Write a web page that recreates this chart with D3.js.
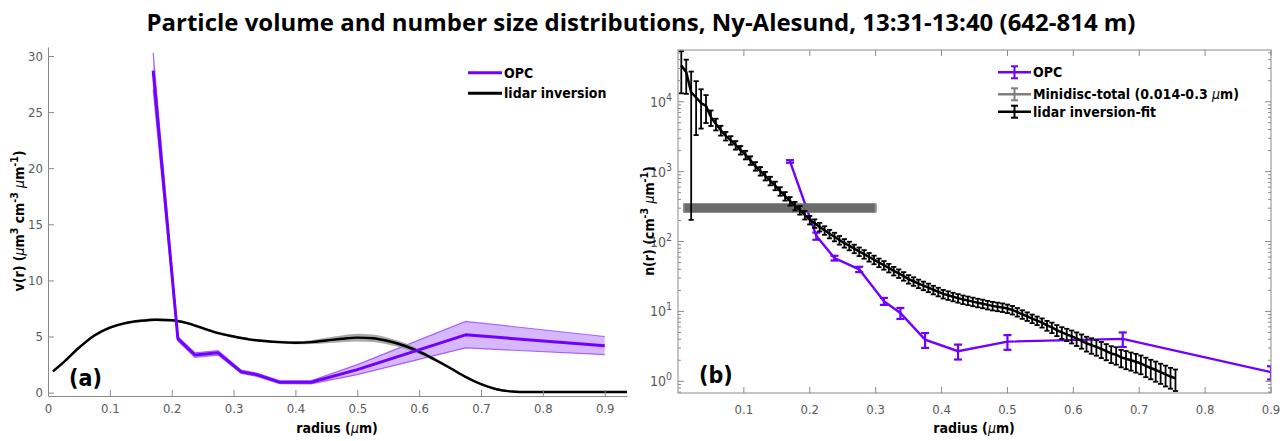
<!DOCTYPE html>
<html>
<head>
<meta charset="utf-8">
<script src="https://cdn.jsdelivr.net/npm/d3@7"></script>
<style>
  body { margin: 0; background: #fff; }
  svg { display: block; }
</style>
</head>
<body>
<div id="chart"></div>
<script>
// ---- panel (a): volume size distribution v(r) ----
const opcR   = [0.17, 0.21, 0.2375, 0.275, 0.3125, 0.3375, 0.375, 0.425, 0.5, 0.675, 0.9];
const opcV   = [28.7, 4.8, 3.35, 3.55, 1.85, 1.6, 0.92, 0.92, 2.05, 5.15, 4.18];
const opcVLo = [27.0, 4.6, 3.15, 3.35, 1.7, 1.45, 0.8, 0.78, 1.6, 3.98, 3.38];
const opcVHi = [30.3, 5.0, 3.55, 3.75, 2.0, 1.75, 1.05, 1.06, 2.5, 6.35, 5.0];

const lidarVR = [0.008, 0.025, 0.05, 0.075, 0.1, 0.125, 0.15, 0.175, 0.2, 0.225, 0.25, 0.275,
                 0.3, 0.325, 0.35, 0.375, 0.4, 0.425, 0.45, 0.475, 0.5, 0.525, 0.55, 0.575,
                 0.6, 0.625, 0.65, 0.675, 0.7, 0.725, 0.75, 0.775, 0.8, 0.85, 0.9, 0.936];
const lidarV   = [1.9, 2.7, 4.0, 5.1, 5.8, 6.2, 6.4, 6.5, 6.45, 6.2, 5.75, 5.3,
                  5.0, 4.75, 4.6, 4.5, 4.45, 4.5, 4.65, 4.8, 4.9, 4.85, 4.6, 4.2,
                  3.65, 2.95, 2.2, 1.4, 0.75, 0.3, 0.1, 0.05, 0.05, 0.05, 0.05, 0.05];
const lidarVErr = [0.12, 0.12, 0.12, 0.12, 0.12, 0.12, 0.12, 0.12, 0.12, 0.12, 0.12, 0.12,
                   0.12, 0.12, 0.12, 0.12, 0.14, 0.17, 0.24, 0.3, 0.34, 0.34, 0.3, 0.27,
                   0.22, 0.16, 0.12, 0.1, 0.08, 0.08, 0.08, 0.08, 0.08, 0.08, 0.08, 0.08];

const xTicksA = [0, 0.1, 0.2, 0.3, 0.4, 0.5, 0.6, 0.7, 0.8, 0.9];
const yTicksA = [0, 5, 10, 15, 20, 25, 30];

// ---- panel (b): number size distribution n(r) ----
const opcN    = [1400, 120, 58, 40, 14, 9.5, 3.95, 2.7, 3.7, 4.05, 1.35];
const opcNErr = [60, 14, 4.5, 3.5, 1.6, 1.7, 0.95, 0.65, 0.88, 0.95, 0.29];

const minidiscRange = [0.009, 0.3];
const minidiscN = 305;
const minidiscErr = 47;

const fitR = d3.range(101).map(i => 0.005 + i * 0.0075);
const fitN = [33000, 26500, 13600, 11500, 9600, 8700, 6000, 4800, 3900, 3240,
              2820, 2400, 2040, 1740, 1450, 1200, 1020, 870, 740, 630,
              525, 447, 380, 324, 282, 240, 204, 182, 162, 145,
              129, 117, 105, 95, 87, 79, 72, 66, 60, 55,
              50, 46, 42, 38, 35, 32, 29, 27, 25, 23.4,
              21.9, 20.4, 19.1, 17.8, 17.0, 16.2, 15.5, 14.8, 14.3, 13.8,
              13.3, 12.9, 12.4, 12.0, 11.7, 11.4, 11.0, 10.5, 9.8, 9.1,
              8.5, 7.9, 7.4, 6.9, 6.3, 5.9, 5.4, 5.0, 4.7, 4.4,
              4.1, 3.8, 3.5, 3.3, 3.1, 2.9, 2.7, 2.5, 2.4, 2.2,
              2.1, 2.0, 1.9, 1.8, 1.66, 1.55, 1.45, 1.35, 1.26, 1.17,
              1.10];
const fitRelErr = [0.6, 0.51, 0.985, 0.71, 0.57, 0.43, 0.25, 0.19, 0.16, 0.14,
                   0.14, 0.14, 0.14, 0.14, 0.14, 0.14, 0.14, 0.14, 0.14, 0.14,
                   0.14, 0.14, 0.14, 0.14, 0.14, 0.14, 0.14, 0.14, 0.14, 0.14,
                   0.14, 0.14, 0.14, 0.14, 0.14, 0.14, 0.14, 0.14, 0.14, 0.14,
                   0.14, 0.14, 0.14, 0.14, 0.14, 0.14, 0.14, 0.14, 0.14, 0.14,
                   0.14, 0.14, 0.14, 0.14, 0.14, 0.14, 0.14, 0.14, 0.14, 0.14,
                   0.14, 0.14, 0.14, 0.14, 0.14, 0.14, 0.14, 0.14, 0.14, 0.14,
                   0.14, 0.14, 0.14, 0.15, 0.16, 0.17, 0.18, 0.19, 0.2, 0.21,
                   0.22, 0.23, 0.24, 0.25, 0.25, 0.26, 0.26, 0.27, 0.28, 0.28,
                   0.29, 0.29, 0.3, 0.3, 0.31, 0.31, 0.32, 0.32, 0.33, 0.33,
                   0.34];

const xTicksB = [0.1, 0.2, 0.3, 0.4, 0.5, 0.6, 0.7, 0.8, 0.9];
const yDecadesB = [0, 1, 2, 3, 4];

const title = "Particle volume and number size distributions,  Ny-Alesund, 13:31-13:40 (642-814 m)";

const PURPLE = "#7000ff";
const AXIS = "#8a8a8a";
const TICKTXT = "#5a5a5a";
const FONT = "'DejaVu Sans Condensed', 'DejaVu Sans', sans-serif";

const W = 1284, H = 441;
const svg = d3.select("#chart").append("svg")
  .attr("width", W).attr("height", H)
  .style("font-family", FONT);

// text with superscripts and italic mu
function rich(sel, parts) {
  let shift = 0;
  for (const [t, kind] of parts) {
    const ts = sel.append("tspan").text(t);
    const target = kind === "sup" ? -6 : 0;
    if (target !== shift) { ts.attr("dy", target - shift); shift = target; }
    if (kind === "sup") ts.attr("font-size", "0.75em");
    if (kind === "mu") ts.attr("font-style", "italic").attr("font-weight", "normal");
  }
  return sel;
}

// title, fitted to the reference width
const t = svg.append("text")
  .attr("x", 641).attr("y", 31)
  .attr("text-anchor", "middle")
  .style("font-family", "'Liberation Sans Narrow', 'Open Sans', sans-serif")
  .attr("font-weight", "bold").attr("font-size", 26).attr("fill", "#000")
  .text(title);
const tw = t.node().getComputedTextLength();
t.attr("font-size", 26 * 989 / tw);

// ================= panel (a) =================
{
  const x = d3.scaleLinear().domain([0, 0.936]).range([48, 627]);
  const y = d3.scaleLinear().domain([-0.3, 30.8]).range([396, 47]);
  const g = svg.append("g");

  // OPC shaded band
  const band = opcR.map((r, i) => ({r, lo: opcVLo[i], hi: opcVHi[i]}));
  g.append("path").datum(band)
    .attr("d", d3.area().x(d => x(d.r)).y0(d => y(d.lo)).y1(d => y(d.hi)))
    .attr("fill", PURPLE).attr("fill-opacity", 0.28);
  for (const key of ["lo", "hi"]) {
    g.append("path").datum(band)
      .attr("d", d3.line().x(d => x(d.r)).y(d => y(d[key])))
      .attr("fill", "none").attr("stroke", PURPLE).attr("stroke-opacity", 0.55).attr("stroke-width", 1.2);
  }

  // lidar inversion with grey band
  const lid = lidarVR.map((r, i) => ({r, v: lidarV[i], e: lidarVErr[i]}));
  g.append("path").datum(lid)
    .attr("d", d3.area().curve(d3.curveMonotoneX).x(d => x(d.r)).y0(d => y(d.v - d.e)).y1(d => y(d.v + d.e)))
    .attr("fill", "#8c8c8c").attr("fill-opacity", 0.75);
  g.append("path").datum(lid)
    .attr("d", d3.line().curve(d3.curveMonotoneX).x(d => x(d.r)).y(d => y(d.v)))
    .attr("fill", "none").attr("stroke", "#000").attr("stroke-width", 2.4);

  // OPC centre line
  g.append("path").datum(opcR.map((r, i) => ({r, v: opcV[i]})))
    .attr("d", d3.line().x(d => x(d.r)).y(d => y(d.v)))
    .attr("fill", "none").attr("stroke", PURPLE).attr("stroke-width", 3)
    .attr("stroke-linejoin", "round");

  // axes (Matlab style: ticks inward)
  const ax = g.append("g").attr("transform", "translate(0,396)")
    .call(d3.axisBottom(x).tickValues(xTicksA).tickSize(-6).tickSizeOuter(0).tickPadding(8)
      .tickFormat(d => d === 0 ? "0" : d3.format(".1f")(d)));
  const ay = g.append("g").attr("transform", "translate(48,0)")
    .call(d3.axisLeft(y).tickValues(yTicksA).tickSize(-6).tickSizeOuter(0).tickPadding(5));
  for (const a of [ax, ay]) {
    a.select(".domain").attr("stroke", AXIS);
    a.selectAll(".tick line").attr("stroke", AXIS);
    a.selectAll(".tick text").attr("fill", TICKTXT).attr("font-size", 13).style("font-family", FONT);
  }

  svg.append("text").attr("x", 337).attr("y", 433).attr("text-anchor", "middle")
    .attr("font-size", 14).attr("font-weight", "bold")
    .call(rich, [["radius (", ""], ["\u03bc", "mu"], ["m)", ""]]);
  svg.append("text").attr("transform", "translate(24,221) rotate(-90)").attr("text-anchor", "middle")
    .attr("font-size", 14).attr("font-weight", "bold")
    .call(rich, [["v(r) (", ""], ["\u03bc", "mu"], ["m", ""], ["3", "sup"], [" cm", ""], ["-3", "sup"],
                 ["  ", ""], ["\u03bc", "mu"], ["m", ""], ["-1", "sup"], [")", ""]]);

  svg.append("text").attr("x", 69).attr("y", 386)
    .attr("font-size", 23).attr("font-weight", "bold").text("(a)");

  // legend
  const leg = [["OPC", PURPLE, 72.7], ["lidar inversion", "#000", 93.3]];
  for (const [name, col, ly] of leg) {
    svg.append("line").attr("x1", 468).attr("x2", 502).attr("y1", ly).attr("y2", ly)
      .attr("stroke", col).attr("stroke-width", 3);
    svg.append("text").attr("x", 504).attr("y", ly + 5)
      .attr("font-size", 14).attr("font-weight", "bold").text(name);
  }
}

// ================= panel (b) =================
{
  const x = d3.scaleLinear().domain([0, 0.9]).range([678, 1271]);
  const y = d3.scaleLog().domain([0.68, 55000]).range([393, 50]);
  const g = svg.append("g");

  svg.append("clipPath").attr("id", "clipB").append("rect")
    .attr("x", 678).attr("y", 50).attr("width", 593).attr("height", 343);
  const plot = g.append("g").attr("clip-path", "url(#clipB)");

  function errorBars(sel, rs, ns, es, col, cap, sw) {
    rs.forEach((r, i) => {
      const cx = x(r);
      const hi = y(ns[i] + es[i]);
      const lo = y(Math.max(ns[i] - es[i], 0.5));
      sel.append("line").attr("x1", cx).attr("x2", cx).attr("y1", hi).attr("y2", lo)
        .attr("stroke", col).attr("stroke-width", sw);
      for (const yy of [hi, lo]) {
        sel.append("line").attr("x1", cx - cap).attr("x2", cx + cap).attr("y1", yy).attr("y2", yy)
          .attr("stroke", col).attr("stroke-width", sw);
      }
    });
  }

  // OPC
  plot.append("path").datum(opcR.map((r, i) => ({r, n: opcN[i]})))
    .attr("d", d3.line().x(d => x(d.r)).y(d => y(d.n)))
    .attr("fill", "none").attr("stroke", PURPLE).attr("stroke-width", 2.4);
  errorBars(plot.append("g"), opcR, opcN, opcNErr, PURPLE, 4, 2.2);

  // Minidisc total, constant over its size range
  plot.append("path").datum(minidiscRange)
    .attr("d", d3.area().x(d => x(d)).y0(y(minidiscN - minidiscErr)).y1(y(minidiscN + minidiscErr)))
    .attr("fill", "#6b6b6b");
  for (const r of minidiscRange) {
    plot.append("line").attr("x1", x(r)).attr("x2", x(r))
      .attr("y1", y(minidiscN + minidiscErr)).attr("y2", y(minidiscN - minidiscErr))
      .attr("stroke", "#8a8a8a").attr("stroke-width", 2);
  }

  // lidar inversion-fit
  plot.append("path").datum(fitR.map((r, i) => ({r, n: fitN[i]})))
    .attr("d", d3.line().x(d => x(d.r)).y(d => y(d.n)))
    .attr("fill", "none").attr("stroke", "#000").attr("stroke-width", 2.5);
  errorBars(plot.append("g"), fitR, fitN, fitN.map((n, i) => n * fitRelErr[i]), "#000", 2.6, 1.8);

  // box and ticks
  g.append("rect").attr("x", 678).attr("y", 50).attr("width", 593).attr("height", 343)
    .attr("fill", "none").attr("stroke", AXIS);
  for (const v of xTicksB) {
    const px = x(v);
    g.append("line").attr("x1", px).attr("x2", px).attr("y1", 393).attr("y2", 387).attr("stroke", AXIS);
    g.append("line").attr("x1", px).attr("x2", px).attr("y1", 50).attr("y2", 56).attr("stroke", AXIS);
    g.append("text").attr("x", px).attr("y", 414).attr("text-anchor", "middle")
      .attr("font-size", 13).attr("fill", TICKTXT).text(d3.format(".1f")(v));
  }
  const [d0, d1] = y.domain();
  for (let e = -1; e <= 4; e++) {
    for (let m = 1; m <= 9; m++) {
      const v = m * Math.pow(10, e);
      if (v < d0 || v > d1) continue;
      const len = m === 1 ? 6 : 3;
      const py = y(v);
      g.append("line").attr("x1", 678).attr("x2", 678 + len).attr("y1", py).attr("y2", py).attr("stroke", AXIS);
      g.append("line").attr("x1", 1271).attr("x2", 1271 - len).attr("y1", py).attr("y2", py).attr("stroke", AXIS);
    }
  }
  for (const e of yDecadesB) {
    svg.append("text").attr("x", 672).attr("y", y(Math.pow(10, e)) + 5)
      .attr("text-anchor", "end").attr("font-size", 14).attr("fill", TICKTXT)
      .call(rich, [["10", ""], [String(e), "sup"]]);
  }

  svg.append("text").attr("x", 974).attr("y", 433).attr("text-anchor", "middle")
    .attr("font-size", 14).attr("font-weight", "bold")
    .call(rich, [["radius (", ""], ["\u03bc", "mu"], ["m)", ""]]);
  svg.append("text").attr("transform", "translate(654,221) rotate(-90)").attr("text-anchor", "middle")
    .attr("font-size", 14).attr("font-weight", "bold")
    .call(rich, [["n(r) (cm", ""], ["-3", "sup"], ["  ", ""], ["\u03bc", "mu"], ["m", ""], ["-1", "sup"], [")", ""]]);

  svg.append("text").attr("x", 699).attr("y", 383)
    .attr("font-size", 23).attr("font-weight", "bold").text("(b)");

  // legend with error-bar glyphs
  const leg = [
    ["OPC", PURPLE, 72.3, [["OPC", ""]]],
    ["Minidisc", "#7f7f7f", 94.3, [["Minidisc-total (0.014-0.3 ", ""], ["\u03bc", "mu"], ["m)", ""]]],
    ["lidar", "#000", 111.7, [["lidar inversion-fit", ""]]]
  ];
  for (const [, col, ly, parts] of leg) {
    svg.append("line").attr("x1", 998).attr("x2", 1031).attr("y1", ly).attr("y2", ly)
      .attr("stroke", col).attr("stroke-width", 2.5);
    svg.append("line").attr("x1", 1014.5).attr("x2", 1014.5).attr("y1", ly - 6).attr("y2", ly + 6)
      .attr("stroke", col).attr("stroke-width", 2);
    for (const yy of [ly - 6, ly + 6]) {
      svg.append("line").attr("x1", 1011).attr("x2", 1018).attr("y1", yy).attr("y2", yy)
        .attr("stroke", col).attr("stroke-width", 2);
    }
    svg.append("text").attr("x", 1033).attr("y", ly + 5)
      .attr("font-size", 14).attr("font-weight", "bold")
      .call(rich, parts);
  }
}
</script>
</body>
</html>
